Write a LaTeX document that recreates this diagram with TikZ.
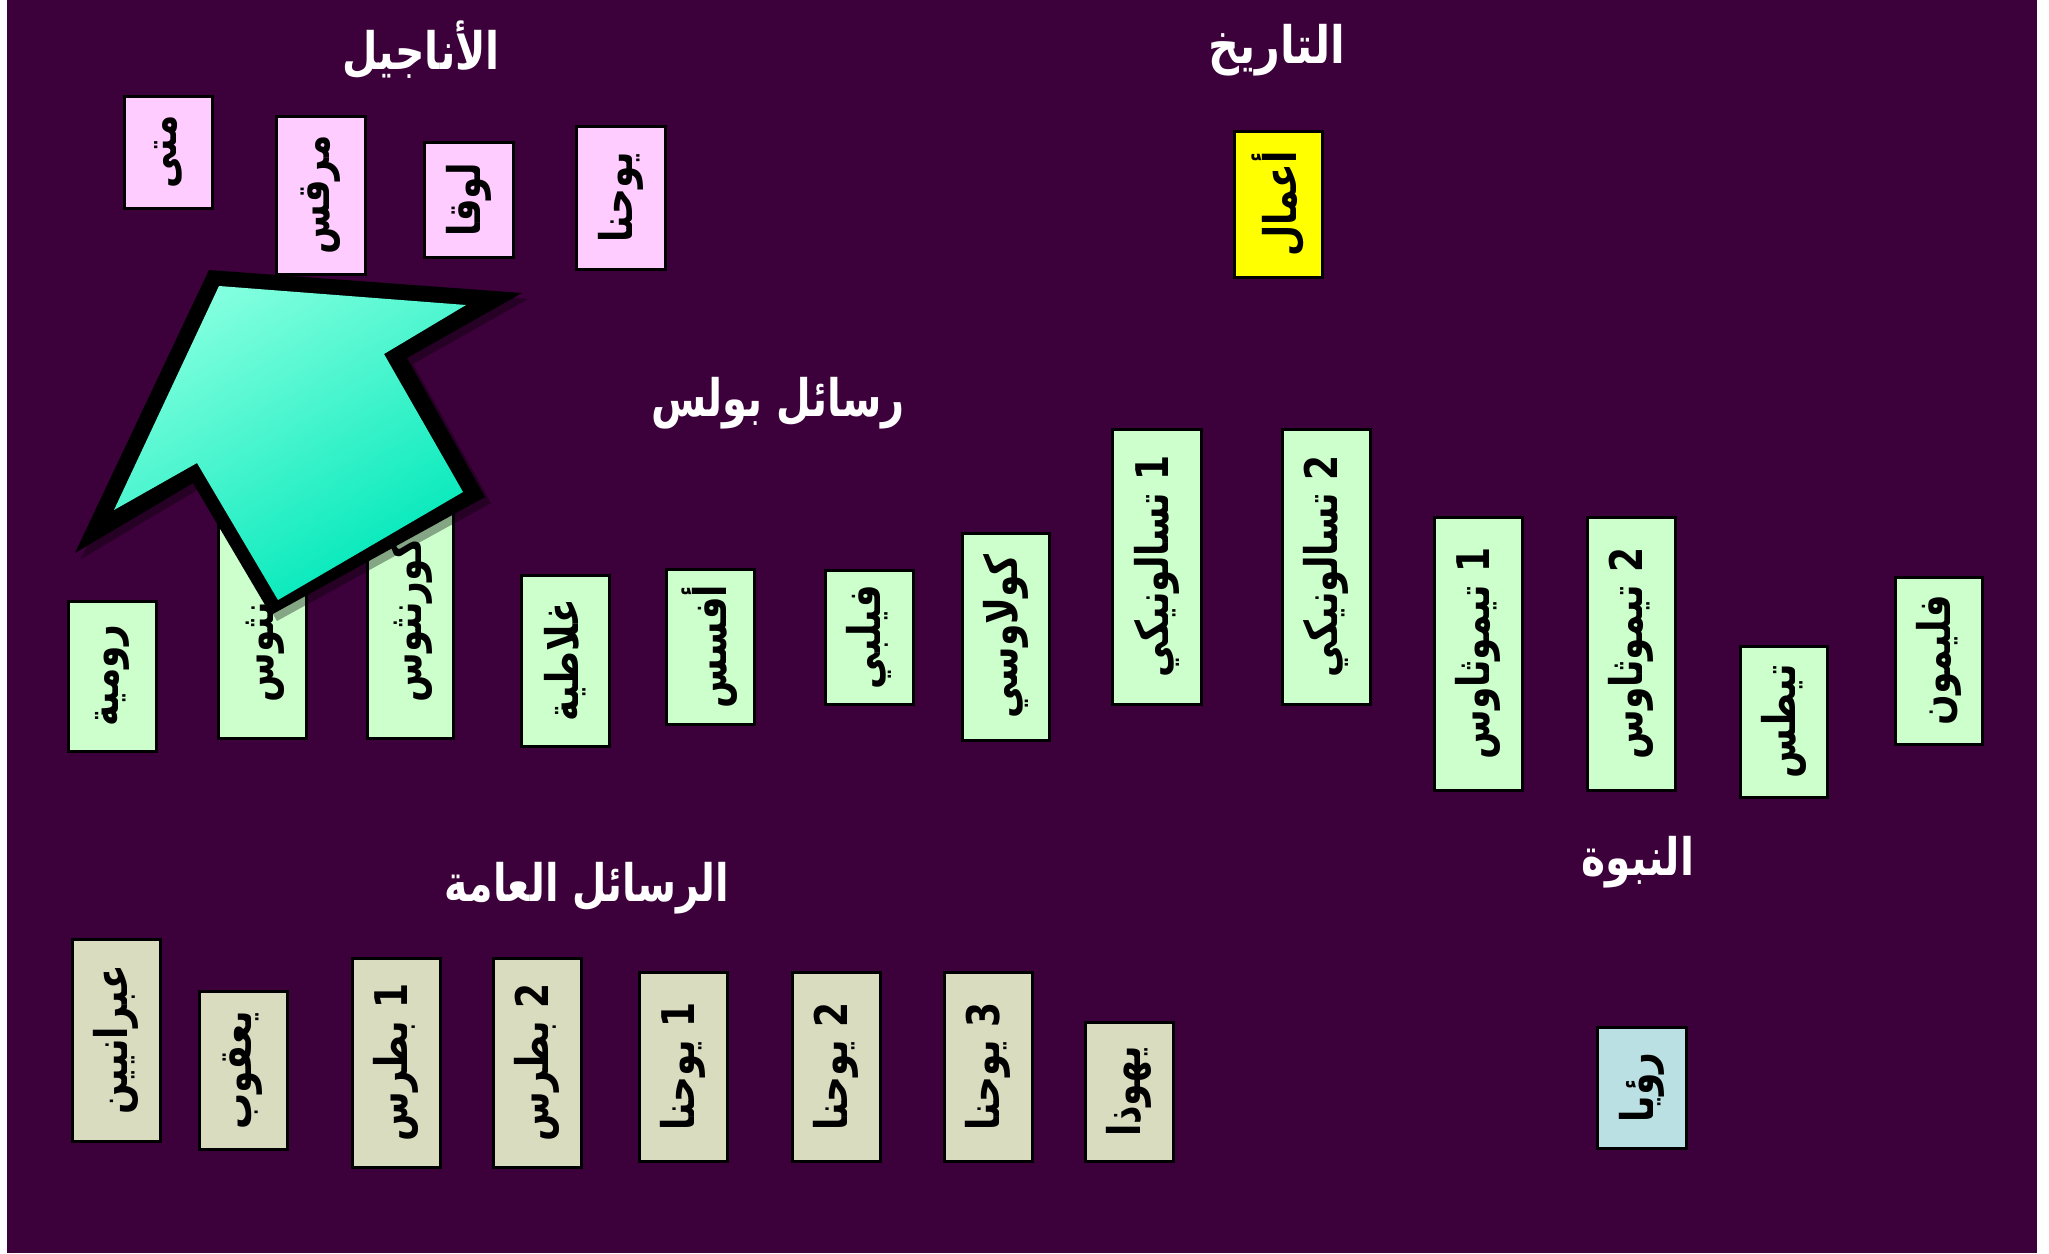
\documentclass[tikz,border=0pt]{standalone}
\usepackage{fontspec}
\usepackage{graphicx}
\TeXXeTstate=1
\newfontfamily\arb[Script=Arabic]{DejaVu Sans}
\definecolor{bgp}{RGB}{60,0,58}
\definecolor{gospel}{RGB}{255,204,255}
\definecolor{acts}{RGB}{255,255,0}
\definecolor{paul}{RGB}{204,255,204}
\definecolor{gen}{RGB}{218,220,192}
\definecolor{rev}{RGB}{187,224,227}
\definecolor{arrL}{RGB}{130,255,222}
\definecolor{arrD}{RGB}{0,232,186}
\tikzset{
  bk/.style={draw=black, line width=3pt, rotate=90, inner sep=0pt, text=black,
    font=\arb\bfseries\fontsize{36}{42}\selectfont},
  ttl/.style={text=white, inner sep=0pt, font=\arb\bfseries\fontsize{43}{52}\selectfont},
}
\newcommand\bkx[7]{% name, cx, cy, W, H, fill, text
  \node[bk, fill=#6, minimum width=#5pt, minimum height=#4pt] (#1) at (#2,#3) {\scalebox{1}[1.25]{#7}};}
\begin{document}
\begin{tikzpicture}[x=1pt,y=-1pt]
\useasboundingbox (0,0) rectangle (2049,1253);
\fill[white] (0,0) rectangle (2049,1253);
\fill[bgp] (7,0) rectangle (2037,1253);
% titles
\node[ttl] (tgos) at (421,50) {\scalebox{0.95}[1.2]{\beginR الأناجيل\endR}};
\node[ttl] (thist) at (1277,50) {\scalebox{1}[1.2]{\beginR التاريخ\endR}};
\node[ttl] (tpaul) at (778,403) {\scalebox{0.93}[1.2]{\beginR رسائل بولس\endR}};
\node[ttl] (tgen) at (587,888) {\scalebox{0.92}[1.2]{\beginR الرسائل العامة\endR}};
\node[ttl] (tproph) at (1638,862) {\scalebox{0.95}[1.2]{\beginR النبوة\endR}};
% gospels
\bkx{mt}{168}{152}{88}{112}{gospel}{\beginR متى\endR}
\bkx{mk}{320.5}{195}{89}{158}{gospel}{\beginR مرقس\endR}
\bkx{lk}{468.5}{199.5}{89}{115}{gospel}{\beginR لوقا\endR}
\bkx{jn}{620.5}{197.5}{89}{143}{gospel}{\beginR يوحنا\endR}
% acts
\bkx{ac}{1278}{204}{88}{146}{acts}{\beginR أعمال\endR}
% paul
\bkx{rom}{112}{676}{88}{150}{paul}{\beginR رومية\endR}
\bkx{coa}{262}{601.5}{88}{273}{paul}{\beginR 1 كورنثوس\endR}
\bkx{cob}{410}{601.5}{86}{273}{paul}{\beginR 2 كورنثوس\endR}
\bkx{gal}{565}{660.5}{88}{171}{paul}{\beginR غلاطية\endR}
\bkx{eph}{710}{646.5}{88}{155}{paul}{\beginR أفسس\endR}
\bkx{phi}{869}{637}{88}{134}{paul}{\beginR فيلبي\endR}
\bkx{col}{1005.5}{636.5}{87}{207}{paul}{\beginR كولاوسي\endR}
\bkx{tha}{1156.5}{566.5}{89}{275}{paul}{\beginR 1 تسالونيكي\endR}
\bkx{thb}{1326}{566.5}{88}{275}{paul}{\beginR 2 تسالونيكي\endR}
\bkx{tia}{1478}{653.5}{88}{273}{paul}{\beginR 1 تيموثاوس\endR}
\bkx{tib}{1631}{653.5}{88}{273}{paul}{\beginR 2 تيموثاوس\endR}
\bkx{tit}{1783.5}{721.5}{87}{151}{paul}{\beginR تيطس\endR}
\bkx{phm}{1938.5}{660.5}{87}{167}{paul}{\beginR فليمون\endR}
% general
\bkx{heb}{116}{1040}{88}{202}{gen}{\beginR عبرانيين\endR}
\bkx{jas}{243}{1070}{88}{158}{gen}{\beginR يعقوب\endR}
\bkx{pea}{396}{1062.5}{88}{209}{gen}{\beginR 1 بطرس\endR}
\bkx{peb}{537}{1062.5}{88}{209}{gen}{\beginR 2 بطرس\endR}
\bkx{joa}{683}{1066.5}{88}{189}{gen}{\beginR 1 يوحنا\endR}
\bkx{job}{836}{1066.5}{88}{189}{gen}{\beginR 2 يوحنا\endR}
\bkx{joc}{988}{1066.5}{88}{189}{gen}{\beginR 3 يوحنا\endR}
\bkx{jud}{1129}{1091.5}{88}{139}{gen}{\beginR يهوذا\endR}
% prophecy
\bkx{rev}{1641.5}{1087.5}{89}{121}{rev}{\beginR رؤيا\endR}
% big arrow
\fill[black, opacity=0.35] (215,276) -- (528,299) -- (413,364) -- (491,503) -- (277,621) -- (199,489) -- (81,559) -- cycle;
\fill[black] (209,270) -- (522,293) -- (407,358) -- (485,497) -- (271,615) -- (193,483) -- (75,553) -- cycle;
\shade[top color=arrL, bottom color=arrD, shading angle=30]
  (219,286) -- (466,305) -- (384,354) -- (463,492) -- (278,600) -- (197,463) -- (114,510) -- cycle;
\end{tikzpicture}
\end{document}
